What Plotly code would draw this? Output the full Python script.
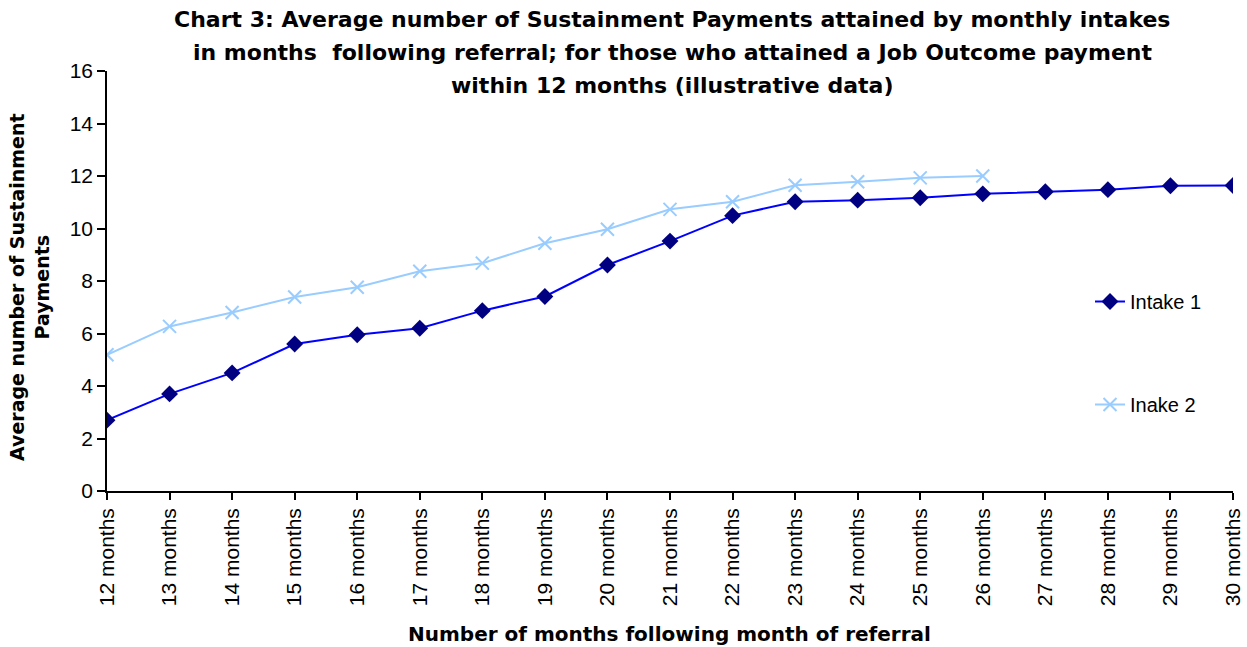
import plotly.graph_objects as go

categories = [f"{m} months" for m in range(12, 31)]
intake1 = [2.7, 3.7, 4.5, 5.6, 5.95, 6.2, 6.87, 7.41, 8.61, 9.52, 10.49, 11.02, 11.08,
           11.17, 11.32, 11.4, 11.48, 11.63, 11.64]
intake2 = [5.19, 6.27, 6.8, 7.39, 7.76, 8.37, 8.68, 9.44, 9.97, 10.73, 11.02, 11.65, 11.78,
           11.93, 12.0]
y_ticks = [0, 2, 4, 6, 8, 10, 12, 14, 16]

title_lines = [
    "Chart 3: Average number of Sustainment Payments attained by monthly intakes",
    "in months  following referral; for those who attained a Job Outcome payment",
    "within 12 months (illustrative data)",
]
x_title = "Number of months following month of referral"
y_title = "Average number of Sustainment<br>Payments"

FONT = "Liberation Sans, Arial, sans-serif"
BOLD_FONT = "DejaVu Sans, Liberation Sans, Arial, sans-serif"

L, R, T, B = 107, 14, 71, 156
W, H = 1247, 647
PW, PH = W - L - R, H - T - B


def px_x(x):
    return (x - L) / PW


def px_y(y):
    return (H - B - y) / PH


fig = go.Figure()
fig.add_trace(go.Scatter(
    x=categories, y=intake1, name="Intake 1", mode="lines+markers",
    line=dict(color="#0000FF", width=2),
    marker=dict(symbol="diamond", size=13, color="#000080"),
    legendgroup="a",
))
fig.add_trace(go.Scatter(
    x=categories[:len(intake2)], y=intake2, name="Inake 2", mode="lines+markers",
    line=dict(color="#99CCFF", width=2),
    marker=dict(symbol="x-thin", size=13, color="#99CCFF",
                line=dict(color="#99CCFF", width=2)),
    legendgroup="b",
))

fig.update_layout(
    width=W, height=H,
    margin=dict(l=L, r=R, t=T, b=B, autoexpand=False),
    paper_bgcolor="white", plot_bgcolor="white",
    font=dict(family=FONT, size=21, color="black"),
    showlegend=True,
    legend=dict(x=px_x(1090), y=px_y(353), xanchor="left", yanchor="middle",
                font=dict(size=20, family=FONT), tracegroupgap=74,
                bgcolor="rgba(0,0,0,0)"),
    xaxis=dict(type="category", range=[0, len(categories) - 1], automargin=False,
               showline=True, linecolor="black", linewidth=1.5,
               ticks="outside", ticklen=7, tickcolor="black", tickwidth=1.5,
               tickangle=-90, tickfont=dict(size=21), showgrid=False, zeroline=False),
    yaxis=dict(range=[0, 16], tickvals=y_ticks, automargin=False,
               showline=True, linecolor="black", linewidth=1.5,
               ticks="outside", ticklen=8, tickcolor="black", tickwidth=1.5,
               tickfont=dict(size=21), showgrid=False, zeroline=False),
)

for i, line in enumerate(title_lines):
    fig.add_annotation(text=f"<b>{line}</b>", xref="paper", yref="paper",
                       x=px_x(672), y=px_y(20 + 32.5 * i),
                       xanchor="center", yanchor="middle", showarrow=False,
                       font=dict(size=22, family=BOLD_FONT))

fig.add_annotation(text=f"<b>{x_title}</b>", xref="paper", yref="paper",
                   x=px_x(669), y=px_y(634), xanchor="center", yanchor="middle",
                   showarrow=False, font=dict(size=20, family=BOLD_FONT))

fig.add_annotation(text=f"<b>{y_title}</b>",
                   xref="paper", yref="paper", x=px_x(29), y=px_y(287),
                   xanchor="center", yanchor="middle", textangle=-90, showarrow=False,
                   font=dict(size=19, family=BOLD_FONT))

fig.write_html("out.html", config={"displayModeBar": False},
               post_script="document.body.style.margin='0';")
